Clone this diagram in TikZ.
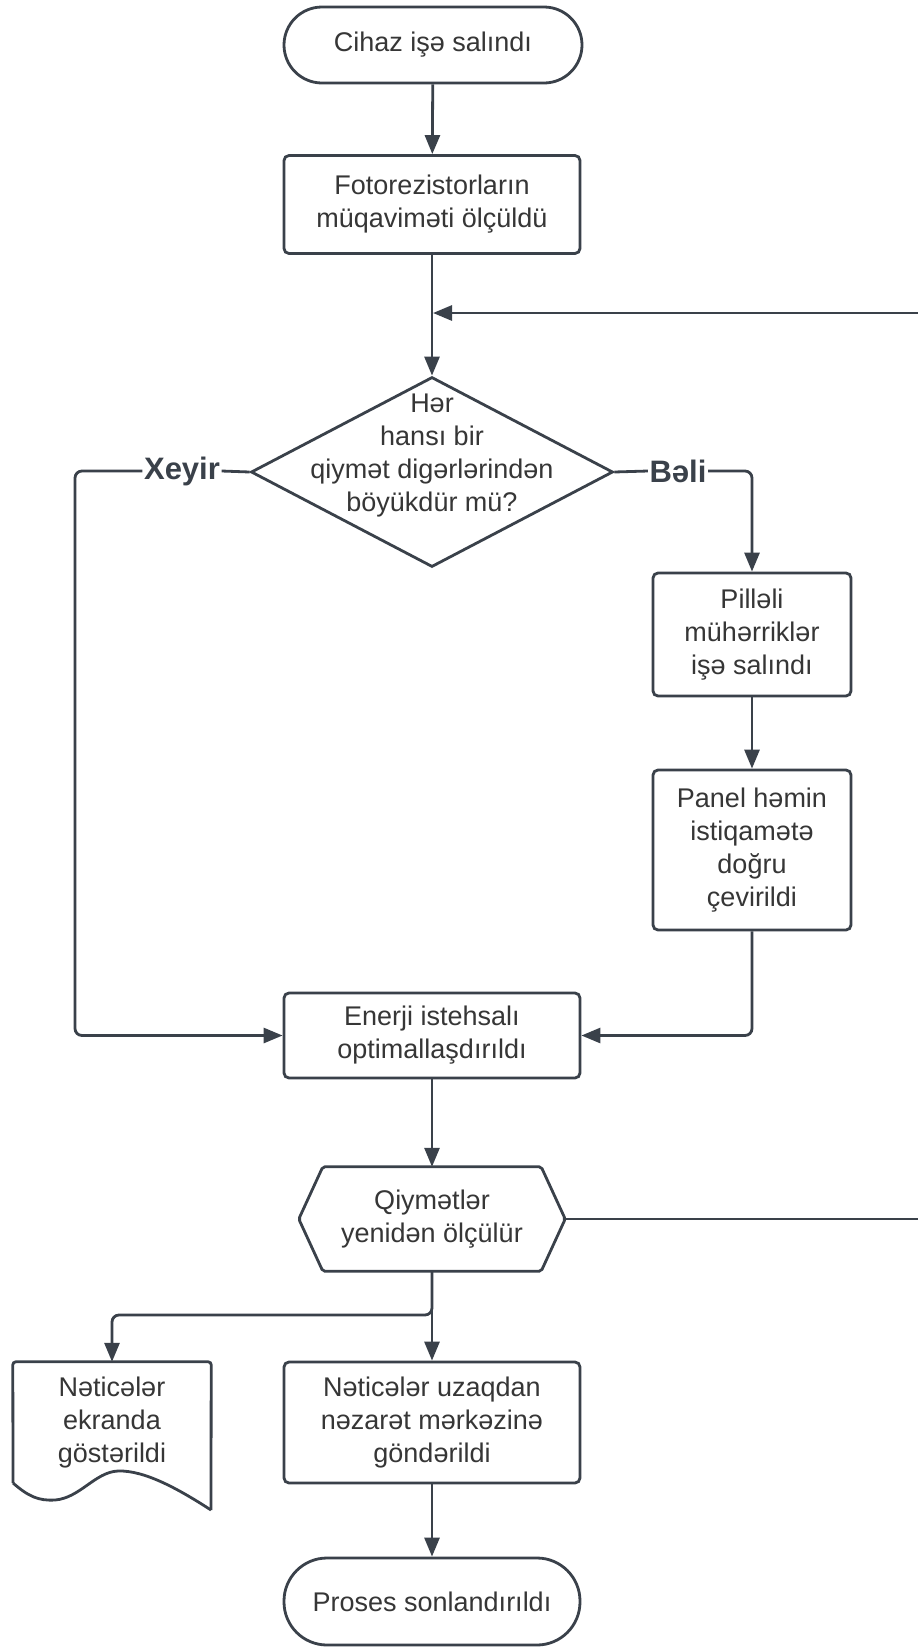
\documentclass[tikz,border=0pt]{standalone}
\usepackage{fontspec}
\setmainfont{Liberation Sans}
\usetikzlibrary{shapes.geometric,arrows.meta}
\definecolor{ln}{HTML}{3A414A}
\definecolor{tx}{HTML}{363636}
\tikzset{
  base/.style={draw=ln, line width=2.8pt, fill=white, align=center, text=tx,
    font=\fontsize{27}{33}\selectfont, inner sep=0pt},
  procbox/.style={base, rounded corners=5pt, minimum width=#1},
  termbox/.style={base, rounded corners=38pt},
  ghost/.style={align=center, text=tx, font=\fontsize{27}{33}\selectfont, inner sep=0pt},
  lbl/.style={text=ln, font=\fontsize{31}{35}\selectfont\bfseries, inner sep=1.5pt},
  conn/.style={draw=ln, line width=2.8pt},
  arr/.style={conn, -{Triangle[length=19pt,width=15pt]}},
}
\begin{document}
\begin{tikzpicture}[x=1pt,y=-1pt]
\useasboundingbox (0,0) rectangle (918,1652);
\fill[white] (0,0) rectangle (918,1652);

% nodes
\node[termbox, minimum width=298pt, minimum height=76pt] (start) at (433,45) {Cihaz işə salındı};
\node[procbox=296pt, minimum height=98pt] (foto) at (432,204.5) {Fotorezistorların\\müqaviməti ölçüldü};
\node[diamond, draw=ln, line width=2.8pt, fill=white, minimum width=362pt, minimum height=190pt, inner sep=0pt] (dec) at (432,472) {};
\node[ghost] (dectxt) at (432,456) {Hər\\hansı bir\\qiymət digərlərindən\\böyükdür mü?};
\node[lbl] (xeyir) at (182,471) {Xeyir};
\node[lbl] (beli) at (678,471) {Bəli};
\node[procbox=198pt, minimum height=123pt] (pil) at (752,634.5) {Pilləli\\mühərriklər\\işə salındı};
\node[procbox=198pt, minimum height=160pt] (panel) at (752,850) {Panel həmin\\istiqamətə\\doğru\\çevirildi};
\node[procbox=296pt, minimum height=85pt] (enerji) at (432,1035.5) {Enerji istehsalı\\optimallaşdırıldı};
\node[ghost, minimum width=266pt, minimum height=104pt] (hex) at (432,1219) {};
\draw[draw=ln, line width=2.8pt, fill=white, rounded corners=2pt]
  (hex.west) -- ([xshift=24pt]hex.north west) -- ([xshift=-24pt]hex.north east)
  -- (hex.east) -- ([xshift=-24pt]hex.south east) -- ([xshift=24pt]hex.south west) -- cycle;
\node[ghost] (hextxt) at (432,1219) {Qiymətlər\\yenidən ölçülür};
\node[ghost, minimum width=198pt, minimum height=118pt] (disp) at (112,1421) {};
\draw[draw=ln, line width=2.8pt, fill=white, rounded corners=3pt]
  (13,1483) -- (disp.north west) -- (disp.north east) -- (211,1510);
\draw[draw=ln, line width=2.8pt]
  (13,1483) .. controls (28,1496) and (38,1501) .. (55,1500)
  .. controls (80,1498) and (95,1472) .. (118,1471)
  .. controls (145,1470) and (180,1490) .. (211,1510);
\node[ghost] (disptxt) at (112,1422) {Nəticələr\\ekranda\\göstərildi};
\node[procbox=296pt, minimum height=121pt] (nat) at (432,1422.5) {Nəticələr uzaqdan\\nəzarət mərkəzinə\\göndərildi};
\node[termbox, rounded corners=43pt, minimum width=296pt, minimum height=87pt] (stop) at (432,1601.5) {Proses sonlandırıldı};

% coordinates
\coordinate (fbR) at (918,313);
\coordinate (fbJ) at (433,313);
\coordinate (lc) at (75,471);
\coordinate (br) at (432,1315);
\coordinate (hexR) at (918,1219);

% connectors
\draw[arr] (start) -- (foto);
\draw[arr] (foto) -- (dec);
\draw[arr] (fbR) -- (fbJ);
\draw[conn] (dec.west) -- (xeyir.east);
\draw[arr, rounded corners=7pt] (xeyir.west) -- (lc) |- (enerji.west);
\draw[conn] (dec.east) -- (beli.west);
\draw[arr, rounded corners=7pt] (beli.east) -| (pil.north);
\draw[arr] (pil) -- (panel);
\draw[arr, rounded corners=7pt] (panel.south) |- (enerji.east);
\draw[arr] (enerji) -- (hex.north);
\draw[conn] (hex.east) -- (hexR);
\draw[arr] (hex.south) -- (nat.north);
\draw[arr, rounded corners=7pt] (hex.south) -- (br) -| (disp.north);
\draw[arr] (nat) -- (stop);
\end{tikzpicture}
\end{document}
